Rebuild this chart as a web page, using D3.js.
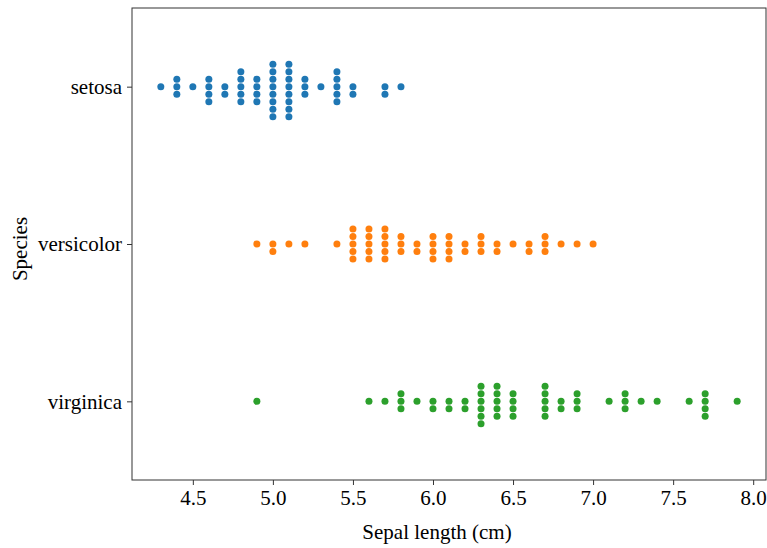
<!DOCTYPE html>
<html><head><meta charset="utf-8">
<script src="https://cdn.jsdelivr.net/npm/d3@7"></script>
<style>
html,body{margin:0;padding:0;background:#fff;}
text{font-family:"Liberation Serif","Times New Roman",serif;}
</style></head>
<body>
<svg id="chart" width="767" height="548"></svg>
<script>
const species = ["setosa", "versicolor", "virginica"];
const colors = ["#1f77b4", "#ff7f0e", "#2ca02c"];
const setosa = [5.1,4.9,4.7,4.6,5.0,5.4,4.6,5.0,4.4,4.9,5.4,4.8,4.8,4.3,5.8,5.7,5.4,5.1,5.7,5.1,5.4,5.1,4.6,5.1,4.8,5.0,5.0,5.2,5.2,4.7,4.8,5.4,5.2,5.5,4.9,5.0,5.5,4.9,4.4,5.1,5.0,4.5,4.4,5.0,5.1,4.8,5.1,4.6,5.3,5.0];
const versicolor = [7.0,6.4,6.9,5.5,6.5,5.7,6.3,4.9,6.6,5.2,5.0,5.9,6.0,6.1,5.6,6.7,5.6,5.8,6.2,5.6,5.9,6.1,6.3,6.1,6.4,6.6,6.8,6.7,6.0,5.7,5.5,5.5,5.8,6.0,5.4,6.0,6.7,6.3,5.6,5.5,5.5,6.1,5.8,5.0,5.6,5.7,5.7,6.2,5.1,5.7];
const virginica = [6.3,5.8,7.1,6.3,6.5,7.6,4.9,7.3,6.7,7.2,6.5,6.4,6.8,5.7,5.8,6.4,6.5,7.7,7.7,6.0,6.9,5.6,7.7,6.3,6.7,7.2,6.2,6.1,6.4,7.2,7.4,7.9,6.4,6.3,6.1,7.7,6.3,6.4,6.0,6.9,6.7,6.9,5.8,6.8,6.7,6.7,6.3,6.5,6.2,5.9];
const seriesValues = [setosa, versicolor, virginica];
const xTicks = [4.5, 5.0, 5.5, 6.0, 6.5, 7.0, 7.5, 8.0];
const xLabel = "Sepal length (cm)";
const yLabel = "Species";

const W = 767, H = 548;
const m = {left: 132, right: 1, top: 8, bottom: 68};
const svg = d3.select("#chart");
const x = d3.scaleLinear().domain([4.12, 8.08]).range([m.left, W - m.right]);
const y = d3.scaleLinear().domain([-0.5, 2.5]).range([m.top, H - m.bottom]);

const r = 3.5, step = 7.5;
const pts = [];
seriesValues.forEach((vals, si) => {
  const groups = d3.group(vals, v => v);
  groups.forEach((arr, v) => {
    arr.forEach((_, k) => {
      const off = k === 0 ? 0 : (k % 2 === 1 ? (k + 1) / 2 : -k / 2);
      pts.push({v, si, off});
    });
  });
});
svg.append("g").selectAll("circle").data(pts).join("circle")
  .attr("cx", d => x(d.v))
  .attr("cy", d => y(d.si) + d.off * step)
  .attr("r", r)
  .attr("fill", d => colors[d.si]);

const fs = 21;
const xAxis = svg.append("g").attr("transform", `translate(0,${H - m.bottom})`)
  .call(d3.axisBottom(x).tickValues(xTicks).tickFormat(d3.format(".1f")).tickSize(5).tickPadding(5));
xAxis.select(".domain").remove();
xAxis.selectAll("text").attr("font-size", fs).attr("fill", "#000").style("font-family", "Liberation Serif");
xAxis.selectAll("line").attr("stroke", "#333");

const yAxis = svg.append("g").attr("transform", `translate(${m.left},0)`)
  .call(d3.axisLeft(y).tickValues([0, 1, 2]).tickFormat(i => species[i]).tickSize(5).tickPadding(5));
yAxis.select(".domain").remove();
yAxis.selectAll("text").attr("font-size", fs).attr("fill", "#000").style("font-family", "Liberation Serif");
yAxis.selectAll("line").attr("stroke", "#333");

svg.append("rect").attr("x", m.left).attr("y", m.top)
  .attr("width", W - m.right - m.left).attr("height", H - m.bottom - m.top)
  .attr("fill", "none").attr("stroke", "#333").attr("stroke-width", 1);

svg.append("text").attr("x", 437).attr("y", 539)
  .attr("text-anchor", "middle").attr("font-size", fs).text(xLabel);
svg.append("text").attr("transform", `translate(27,249) rotate(-90)`)
  .attr("text-anchor", "middle").attr("font-size", fs).text(yLabel);
</script>
</body></html>
